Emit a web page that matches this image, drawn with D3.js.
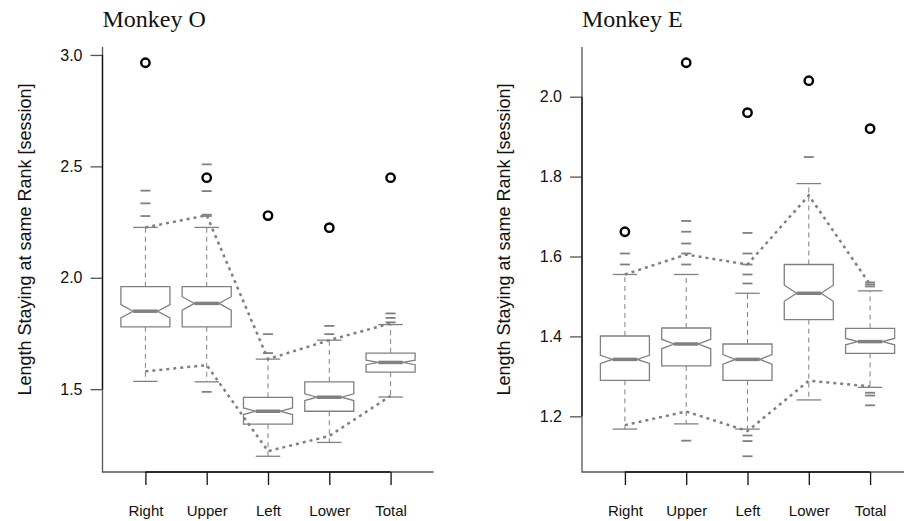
<!DOCTYPE html>
<html>
<head>
<meta charset="utf-8">
<script src="https://cdn.jsdelivr.net/npm/d3@7"></script>
<style>
  body { margin: 0; background: #fff; }
  svg { display: block; }
  .tick text { font-family: "Liberation Sans", Arial, sans-serif; }
</style>
</head>
<body>
<div id="chart"></div>
<script>
const width = 904, height = 521;
const gray = '#808080';

const categories = ['Right', 'Upper', 'Left', 'Lower', 'Total'];

// Monkey O
const oWhiskLo = [1.535, 1.533, 1.199, 1.261, 1.465];
const oQ1      = [1.780, 1.780, 1.343, 1.401, 1.577];
const oMedian  = [1.850, 1.885, 1.401, 1.464, 1.620];
const oQ3      = [1.960, 1.960, 1.463, 1.533, 1.662];
const oWhiskHi = [2.226, 2.226, 1.635, 1.720, 1.790];
const oNotch   = [0.030, 0.030, 0.015, 0.015, 0.010];
const oOutliers = [
  [2.277, 2.334, 2.391],
  [1.488, 2.277, 2.283, 2.389, 2.509],
  [1.662, 1.747],
  [1.747, 1.784],
  [1.800, 1.820, 1.840]
];
const oCircles = [2.965, 2.449, 2.279, 2.225, 2.449];
const oBandHi  = [2.226, 2.280, 1.635, 1.720, 1.795];
const oBandLo  = [1.580, 1.608, 1.222, 1.290, 1.470];
const oTicks   = [1.5, 2.0, 2.5, 3.0];

// Monkey E
const eWhiskLo = [1.168, 1.181, 1.168, 1.241, 1.2725];
const eQ1      = [1.290, 1.326, 1.290, 1.442, 1.3575];
const eMedian  = [1.3425, 1.381, 1.3425, 1.508, 1.387];
const eQ3      = [1.401, 1.421, 1.381, 1.580, 1.420];
const eWhiskHi = [1.555, 1.555, 1.508, 1.7825, 1.514];
const eNotch   = [0.010, 0.012, 0.012, 0.020, 0.008];
const eOutliers = [
  [1.580, 1.6075],
  [1.139, 1.580, 1.6075, 1.6325, 1.662, 1.689],
  [1.100, 1.138, 1.152, 1.5325, 1.555, 1.580, 1.6075, 1.659],
  [1.849],
  [1.2275, 1.252, 1.259, 1.525, 1.530, 1.535]
];
const eCircles = [1.662, 2.085, 1.960, 2.040, 1.920];
const eBandHi  = [1.555, 1.605, 1.580, 1.753, 1.530];
const eBandLo  = [1.178, 1.212, 1.163, 1.289, 1.275];
const eTicks   = [1.2, 1.4, 1.6, 1.8, 2.0];

const svg = d3.select('#chart').append('svg')
    .attr('width', width)
    .attr('height', height);

function buildRows(lo, q1, med, q3, hi, notch, outliers) {
  return categories.map((c, i) => ({
    cat: c, i: i + 1, lo: lo[i], q1: q1[i], med: med[i], q3: q3[i], hi: hi[i],
    notch: notch[i], out: outliers[i]
  }));
}

function drawPanel(opts) {
  const left = opts.left, right = opts.left + 331, top = 47, bottom = 472;
  const rows = opts.rows;

  const all = [].concat(...rows.map(d => [d.lo, d.hi].concat(d.out)), opts.circles, opts.bandHi, opts.bandLo);
  const [mn, mx] = d3.extent(all);
  const pad = (mx - mn) * 0.04;

  const x = d3.scaleLinear().domain([0.3, 5.7]).range([left, right]);
  const y = d3.scaleLinear().domain([mn - pad, mx + pad]).range([bottom, top]);

  const g = svg.append('g');

  // L-shaped frame
  g.append('path')
    .attr('d', `M${left},${top}V${bottom}H${right}`)
    .attr('fill', 'none')
    .attr('stroke', '#555')
    .attr('stroke-width', 1.3);

  // y axis
  const yAxis = g.append('g')
    .attr('transform', `translate(${left},0)`)
    .call(d3.axisLeft(y).tickValues(opts.ticks).tickFormat(d3.format('.1f')).tickSize(12).tickPadding(8).tickSizeOuter(0));
  yAxis.select('.domain').remove();
  yAxis.selectAll('.tick line').attr('stroke', '#555').attr('stroke-width', 1.3);
  yAxis.selectAll('.tick text').attr('font-size', 16).attr('fill', '#111');
  yAxis.append('line')
    .attr('y1', y(d3.min(opts.ticks))).attr('y2', y(d3.max(opts.ticks)))
    .attr('stroke', '#111').attr('stroke-width', 1.3);

  // x axis
  const xAxis = g.append('g')
    .attr('transform', `translate(0,${bottom})`)
    .call(d3.axisBottom(x).tickValues(d3.range(1, 6)).tickFormat(d => categories[d - 1]).tickSize(13).tickPadding(20).tickSizeOuter(0));
  xAxis.select('.domain').remove();
  xAxis.selectAll('.tick line').attr('stroke', '#111').attr('stroke-width', 1.3);
  xAxis.selectAll('.tick text').attr('font-size', 15).attr('fill', '#111');
  xAxis.append('line')
    .attr('x1', x(1)).attr('x2', x(5))
    .attr('stroke', '#111').attr('stroke-width', 1.3);

  // y label
  g.append('text')
    .attr('transform', `translate(${left - 72},${(top + bottom) / 2 - 20}) rotate(-90)`)
    .attr('text-anchor', 'middle')
    .attr('font-family', '"Liberation Sans", Arial, sans-serif')
    .attr('font-size', 18)
    .attr('fill', '#111')
    .text('Length Staying at same Rank [session]');

  // title
  g.append('text')
    .attr('x', left)
    .attr('y', 27)
    .attr('font-family', '"Liberation Serif", "Times New Roman", serif')
    .attr('font-size', 24)
    .attr('fill', '#111')
    .text(opts.title);

  const halfBox = (x(1.4) - x(1));
  const halfStaple = (x(1.2) - x(1));
  const halfNotch = halfBox / 2;

  const boxes = g.selectAll('g.box').data(rows).join('g').attr('class', 'box');

  // whiskers
  boxes.append('line')
    .attr('x1', d => x(d.i)).attr('x2', d => x(d.i))
    .attr('y1', d => y(d.q3)).attr('y2', d => y(d.hi))
    .attr('stroke', gray).attr('stroke-dasharray', '5,4');
  boxes.append('line')
    .attr('x1', d => x(d.i)).attr('x2', d => x(d.i))
    .attr('y1', d => y(d.q1)).attr('y2', d => y(d.lo))
    .attr('stroke', gray).attr('stroke-dasharray', '5,4');

  // staples
  ['lo', 'hi'].forEach(k => {
    boxes.append('line')
      .attr('x1', d => x(d.i) - halfStaple).attr('x2', d => x(d.i) + halfStaple)
      .attr('y1', d => y(d[k])).attr('y2', d => y(d[k]))
      .attr('stroke', gray).attr('stroke-width', 1.3);
  });

  // notched boxes
  boxes.append('path')
    .attr('d', d => {
      const cx = x(d.i);
      return `M${cx - halfBox},${y(d.q1)}V${y(d.med - d.notch)}L${cx - halfNotch},${y(d.med)}L${cx - halfBox},${y(d.med + d.notch)}V${y(d.q3)}` +
             `H${cx + halfBox}V${y(d.med + d.notch)}L${cx + halfNotch},${y(d.med)}L${cx + halfBox},${y(d.med - d.notch)}V${y(d.q1)}Z`;
    })
    .attr('fill', 'white')
    .attr('stroke', gray)
    .attr('stroke-width', 1.3);

  // medians
  boxes.append('line')
    .attr('x1', d => x(d.i) - halfNotch).attr('x2', d => x(d.i) + halfNotch)
    .attr('y1', d => y(d.med)).attr('y2', d => y(d.med))
    .attr('stroke', gray).attr('stroke-width', 3.5);

  // outliers drawn as short dashes
  boxes.selectAll('line.out').data(d => d.out.map(v => ({ i: d.i, v: v }))).join('line')
    .attr('class', 'out')
    .attr('x1', d => x(d.i) - 5).attr('x2', d => x(d.i) + 5)
    .attr('y1', d => y(d.v)).attr('y2', d => y(d.v))
    .attr('stroke', gray).attr('stroke-width', 1.8);

  // dotted bands
  const line = d3.line().x((d, i) => x(i + 1)).y(d => y(d));
  [opts.bandHi, opts.bandLo].forEach(b => {
    g.append('path')
      .attr('d', line(b))
      .attr('fill', 'none')
      .attr('stroke', gray)
      .attr('stroke-width', 2.5)
      .attr('stroke-dasharray', '3,4');
  });

  // black circles
  g.selectAll('circle.pt').data(opts.circles).join('circle')
    .attr('class', 'pt')
    .attr('cx', (d, i) => x(i + 1))
    .attr('cy', d => y(d))
    .attr('r', 4.2)
    .attr('fill', 'none')
    .attr('stroke', '#000')
    .attr('stroke-width', 2.4);
}

drawPanel({
  left: 102.5,
  title: 'Monkey O',
  rows: buildRows(oWhiskLo, oQ1, oMedian, oQ3, oWhiskHi, oNotch, oOutliers),
  circles: oCircles, bandHi: oBandHi, bandLo: oBandLo, ticks: oTicks
});

drawPanel({
  left: 582,
  title: 'Monkey E',
  rows: buildRows(eWhiskLo, eQ1, eMedian, eQ3, eWhiskHi, eNotch, eOutliers),
  circles: eCircles, bandHi: eBandHi, bandLo: eBandLo, ticks: eTicks
});
</script>
</body>
</html>
